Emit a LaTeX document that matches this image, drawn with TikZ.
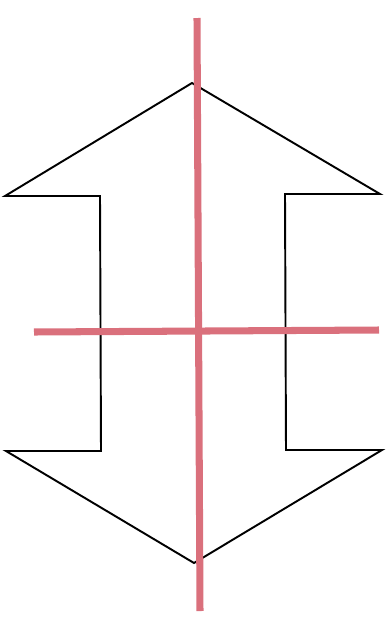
\documentclass[tikz,border=0pt]{standalone}
\usepackage{xcolor}
\usepackage{tikz}
\usetikzlibrary{calc}

\definecolor{axisred}{RGB}{218,112,124}

\begin{document}
\begin{tikzpicture}[x=0.02cm, y=-0.02cm,
  outline/.style={draw=black, line width=1.1pt, line join=miter},
  axisline/.style={draw=axisred, line width=4pt}]
\useasboundingbox (0,0) rectangle (386,623);
% double arrow outline
\coordinate (top) at (192,83);
\coordinate (tl) at (5,196);
\coordinate (tr) at (380,194);
\coordinate (bl) at (6,451);
\coordinate (br) at (382,450);
\coordinate (bot) at (194,563);
\draw[outline] (top) -- (tr) -- (285,194) -- (286,450) -- (br) -- (bot)
  -- (bl) -- (101,451) -- (100,196) -- (tl) -- cycle;
% symmetry axes
\coordinate (vtop) at (197,18);
\coordinate (vbot) at (200,611);
\coordinate (hleft) at (34,332);
\coordinate (hright) at (379,330);
\draw[axisline] (vtop) -- (vbot);
\draw[axisline] (hleft) -- (hright);
\end{tikzpicture}
\end{document}
